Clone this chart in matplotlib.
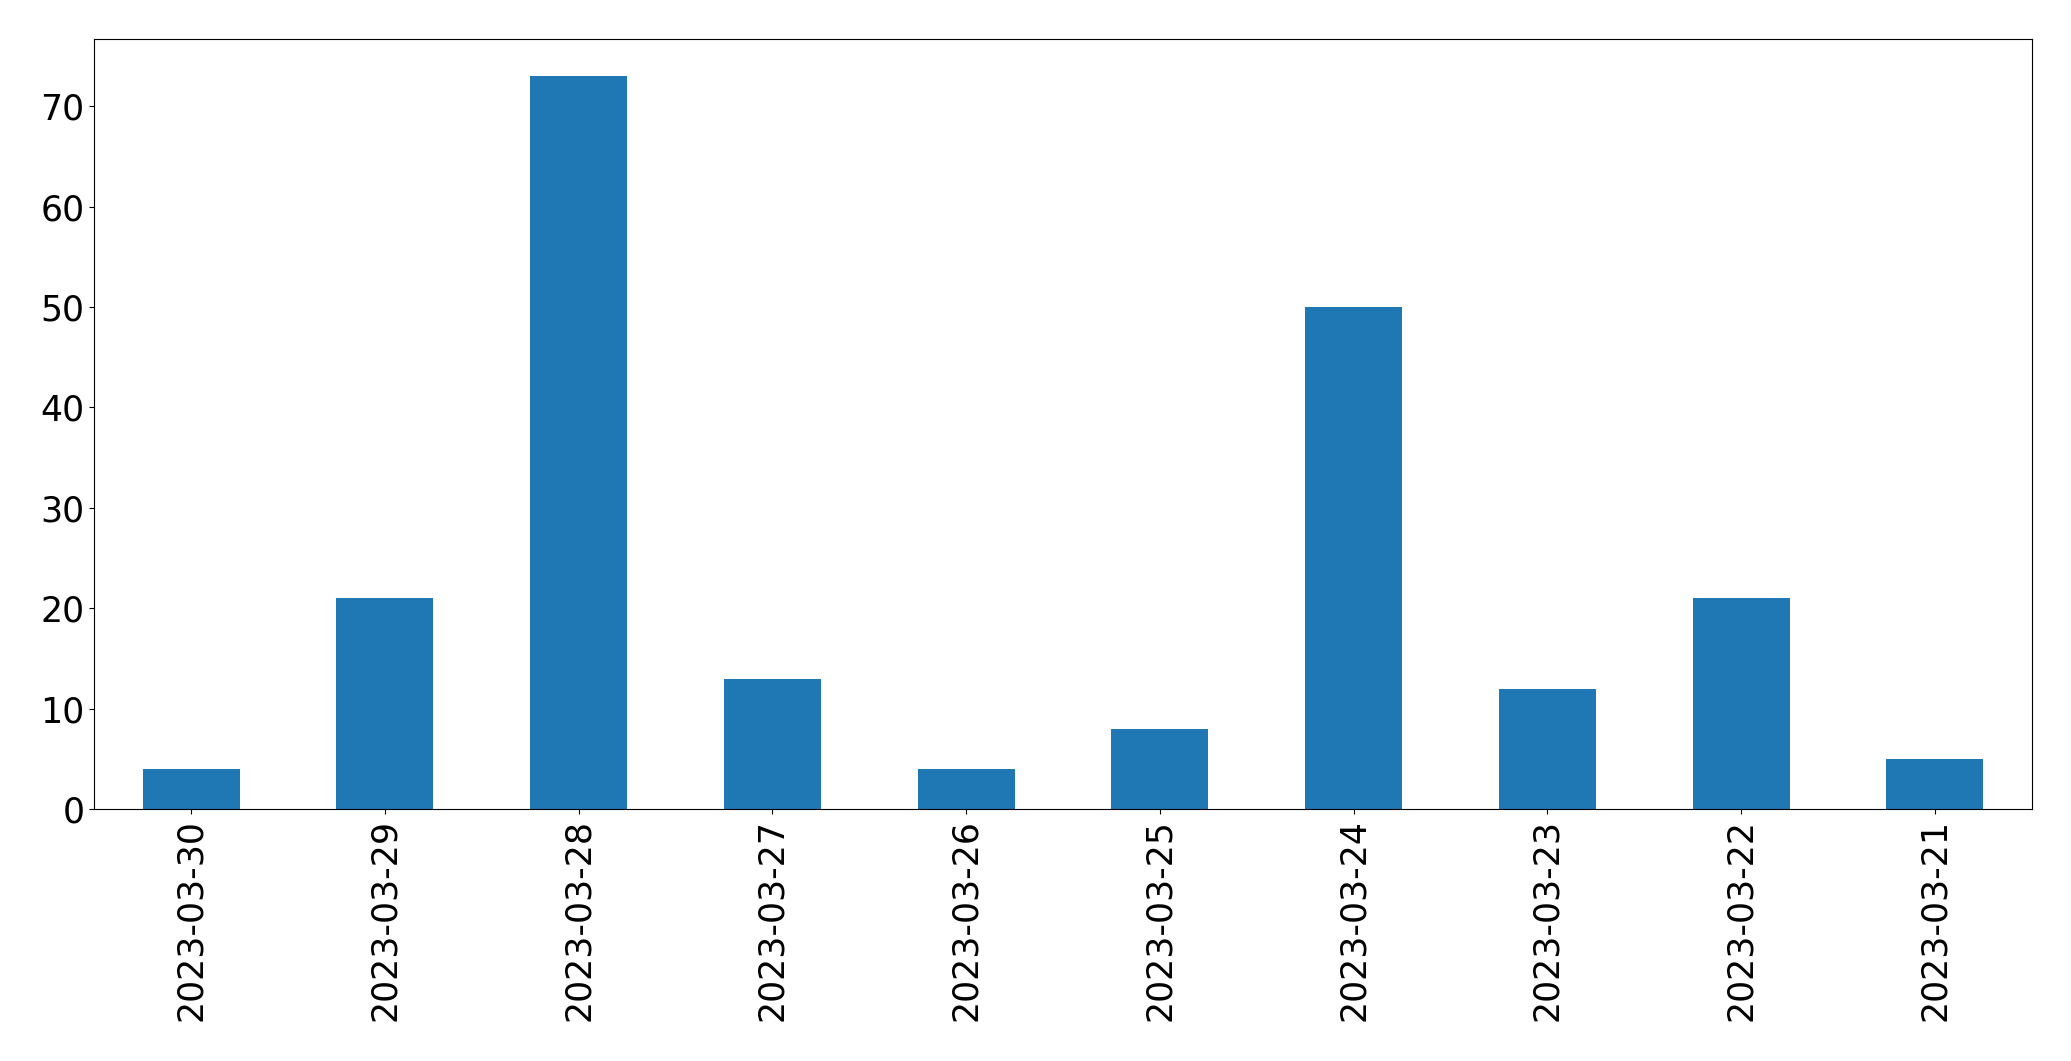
import matplotlib
matplotlib.use("Agg")
import matplotlib.pyplot as plt

### data ###
dates = ["2023-03-30", "2023-03-29", "2023-03-28", "2023-03-27", "2023-03-26",
         "2023-03-25", "2023-03-24", "2023-03-23", "2023-03-22", "2023-03-21"]
counts = [4, 21, 73, 13, 4, 8, 50, 12, 21, 5]

### plot ###
fig = plt.figure(figsize=(20.71, 10.61), dpi=100)
ax = fig.add_subplot(111)
fig.subplots_adjust(left=94.3 / 2071, right=2031.7 / 2071,
                    top=1 - 39.3 / 1061, bottom=1 - 809.3 / 1061)

pos = range(len(dates))
ax.bar(pos, counts, width=0.5, color="#1f77b4")
ax.set_xlim(-0.5, len(dates) - 0.5)
ax.set_ylim(0, max(counts) * 1.05)
ax.set_xticks(list(pos))
ax.set_xticklabels(dates, rotation=90)
ax.tick_params(labelsize=25)

### image output ###
plt.savefig("out.png", dpi=100)
